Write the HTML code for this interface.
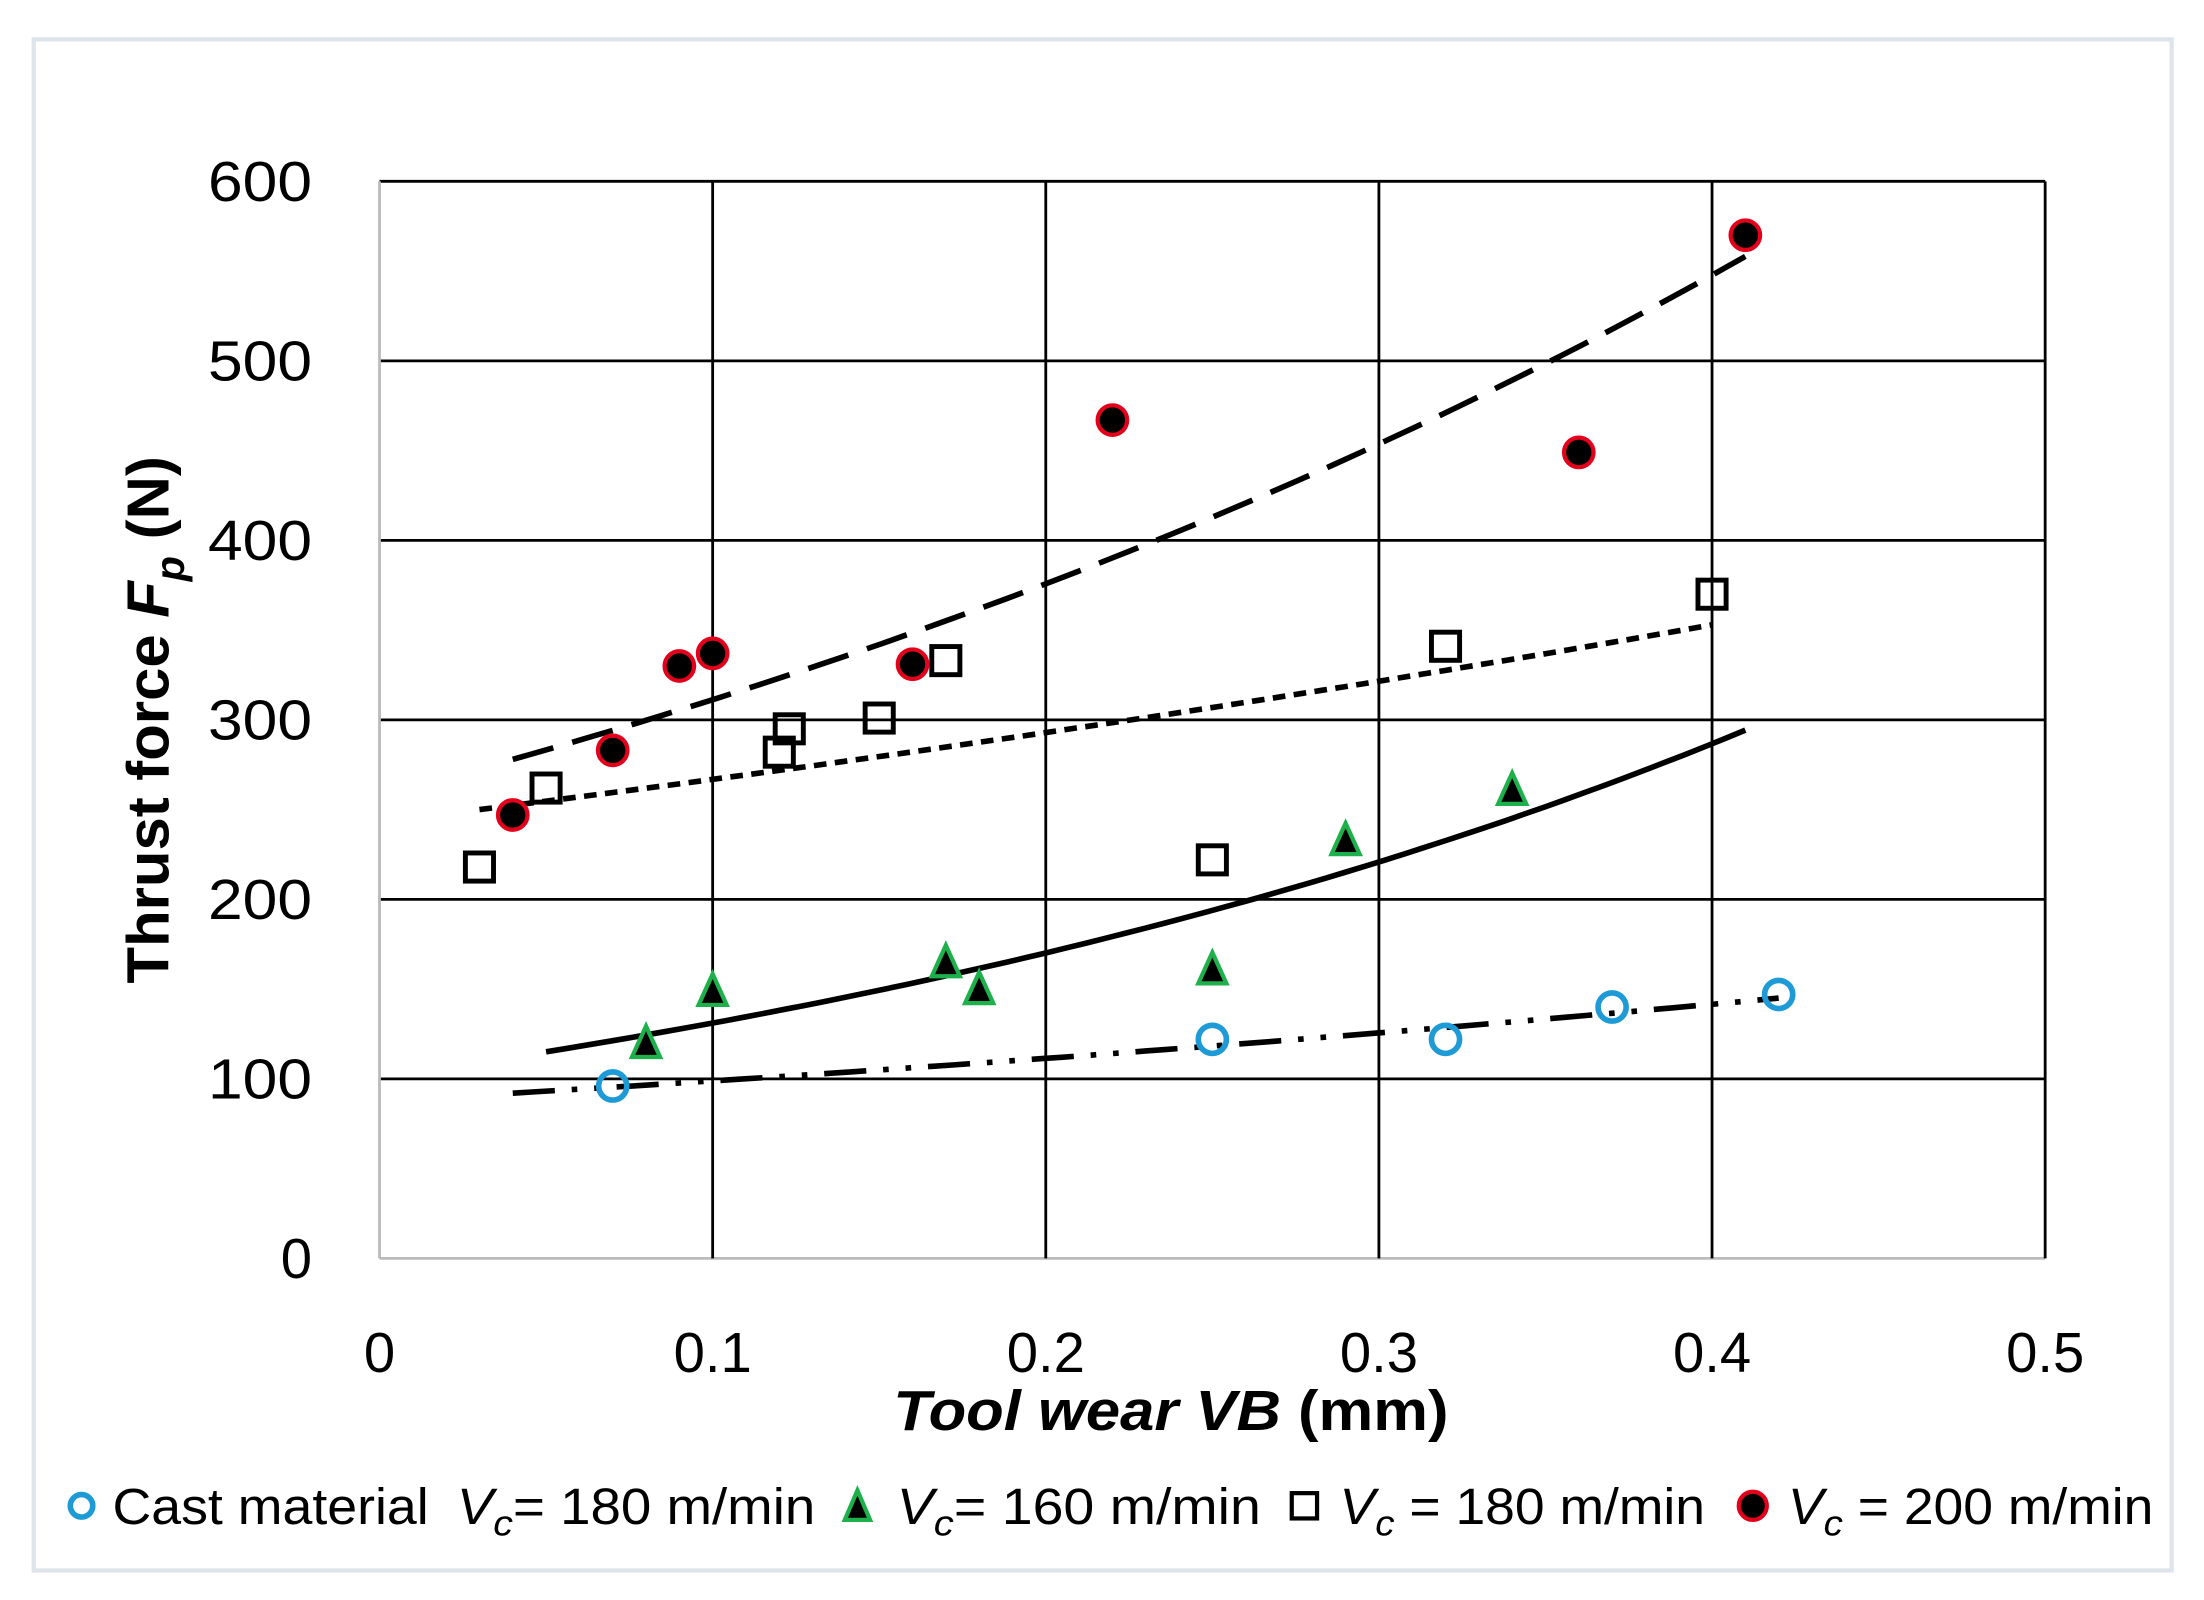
<!DOCTYPE html>
<html><head><meta charset="utf-8"><style>
html,body{margin:0;padding:0;background:#fff;}
svg{display:block;}
text{font-family:"Liberation Sans",sans-serif;fill:#000;}
</style></head><body>
<svg id="s" width="2204" height="1600" viewBox="0 0 1568 1138" preserveAspectRatio="none" xmlns="http://www.w3.org/2000/svg">
<rect x="0" y="0" width="1568" height="1138" fill="#fff"/>
<rect x="24" y="28" width="1521" height="1089" fill="none" stroke="#dde4ec" stroke-width="3"/>
<g id="grid" stroke="#000" stroke-width="2"></g>
<g id="ticks" font-size="40"></g>
<text transform="translate(120,512) rotate(-90)" text-anchor="middle" font-size="42" font-weight="bold" textLength="375" lengthAdjust="spacingAndGlyphs">Thrust force <tspan font-style="italic">F</tspan><tspan font-style="italic" font-size="29" dy="11">p</tspan><tspan dy="-11"> (N)</tspan></text>
<text x="833" y="1017" text-anchor="middle" font-size="40" font-weight="bold" textLength="395" lengthAdjust="spacingAndGlyphs"><tspan font-style="italic">Tool wear VB</tspan> (mm)</text>
<g id="lines" fill="none" stroke="#000" stroke-width="4"></g>
<g id="pts"></g>
<g font-size="36">
<circle cx="58" cy="1071" r="8" fill="none" stroke="#1e9ad6" stroke-width="4"/>
<text x="80" y="1084" textLength="225" lengthAdjust="spacingAndGlyphs">Cast material</text>
<text x="325" y="1084" textLength="255" lengthAdjust="spacingAndGlyphs"><tspan font-style="italic">V</tspan><tspan font-style="italic" font-size="26" dy="8">c</tspan><tspan dy="-8">= 180 m/min</tspan></text>
<polygon points="610,1060 601,1081 619,1081" fill="#000" stroke="#1db04b" stroke-width="3"/>
<text x="638" y="1084" textLength="259" lengthAdjust="spacingAndGlyphs"><tspan font-style="italic">V</tspan><tspan font-style="italic" font-size="26" dy="8">c</tspan><tspan dy="-8">= 160 m/min</tspan></text>
<rect x="919" y="1062" width="18" height="18" fill="none" stroke="#000" stroke-width="3"/>
<text x="953" y="1084" textLength="260" lengthAdjust="spacingAndGlyphs"><tspan font-style="italic">V</tspan><tspan font-style="italic" font-size="26" dy="8">c</tspan><tspan dy="-8"> = 180 m/min</tspan></text>
<circle cx="1247" cy="1071" r="10" fill="#000" stroke="#e3001b" stroke-width="3"/>
<text x="1272" y="1084" textLength="260" lengthAdjust="spacingAndGlyphs"><tspan font-style="italic">V</tspan><tspan font-style="italic" font-size="26" dy="8">c</tspan><tspan dy="-8"> = 200 m/min</tspan></text>
</g>
</svg>
<script>
var NS="http://www.w3.org/2000/svg";
function X(v){return 270+v*2370;}function Y(f){return 895-f*1.2767;}
function el(p,t,a,txt){var e=document.createElementNS(NS,t);for(var k in a)e.setAttribute(k,a[k]);if(txt!=null)e.textContent=txt;document.getElementById(p).appendChild(e);return e;}
for(var i=0;i<=6;i++){var y=Y(i*100);el("grid","line",{x1:270,x2:1455,y1:y,y2:y,stroke:i==0?"#bbb":"#000"});var t=el("ticks","text",{x:222,y:y+14,"text-anchor":"end"},String(i*100));if(i>0){t.setAttribute("textLength",i*100>=100?"74":"25");t.setAttribute("lengthAdjust","spacingAndGlyphs");}}
for(var j=0;j<=5;j++){var x=X(j*0.1);el("grid","line",{x1:x,x2:x,y1:Y(600),y2:Y(0),stroke:j==0?"#bbb":"#000"});el("ticks","text",{x:x,y:976,"text-anchor":"middle"},j==0?"0":(j/10).toString());}
function curve(a,b,x0,x1,dash){var d="";for(var k=0;k<=60;k++){var v=x0+(x1-x0)*k/60;d+=(k?"L":"M")+X(v).toFixed(1)+","+Y(a*Math.exp(b*v)).toFixed(1);}var o={d:d};if(dash)o["stroke-dasharray"]=dash;el("lines","path",o);}
curve(257.8,1.884,0.04,0.41,"30,14");
curve(243.1,0.932,0.03,0.40,"9,6");
curve(101,2.608,0.05,0.41,null);
curve(87.7,1.197,0.04,0.42,"30,12,4,12,4,12");
[[0.07,96],[0.25,122],[0.32,122],[0.37,140],[0.42,147]].forEach(function(p){el("pts","circle",{cx:X(p[0]),cy:Y(p[1]),r:10,fill:"none",stroke:"#1e9ad6","stroke-width":4});});
[[0.08,120],[0.10,149],[0.17,165],[0.18,150],[0.25,161],[0.29,233],[0.34,261]].forEach(function(p){var x=X(p[0]),y=Y(p[1]);el("pts","polygon",{points:x+","+(y-12)+" "+(x-10)+","+(y+10)+" "+(x+10)+","+(y+10),fill:"#000",stroke:"#1db04b","stroke-width":3});});
[[0.03,218],[0.05,262],[0.12,282],[0.123,295],[0.15,301],[0.17,333],[0.25,222],[0.32,341],[0.40,370]].forEach(function(p){el("pts","rect",{x:X(p[0])-10,y:Y(p[1])-10,width:20,height:20,fill:"none",stroke:"#000","stroke-width":3.5});});
[[0.04,247],[0.07,283],[0.09,330],[0.10,337],[0.16,331],[0.22,467],[0.36,449],[0.41,570]].forEach(function(p){el("pts","circle",{cx:X(p[0]),cy:Y(p[1]),r:10.5,fill:"#000",stroke:"#e3001b","stroke-width":3});});
</script>
</body></html>
